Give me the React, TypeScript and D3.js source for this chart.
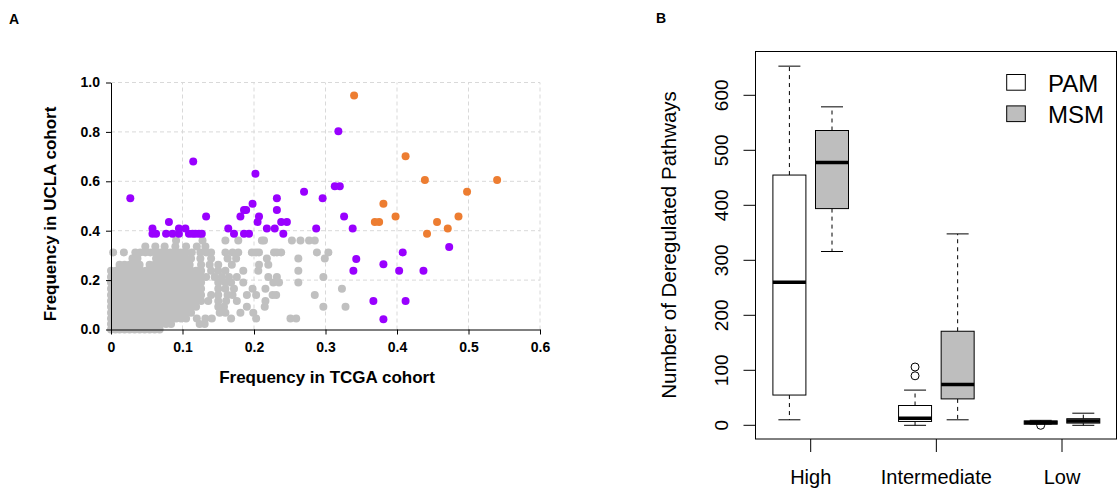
import React, { useRef, useEffect } from 'react';
import * as d3 from 'd3';

// Panel A: frequency pairs [TCGA, UCLA]
const purplePoints: [number, number][] = [
  [0.027, 0.531], [0.115, 0.68], [0.202, 0.631], [0.318, 0.803],
  [0.058, 0.409], [0.058, 0.388], [0.063, 0.388], [0.081, 0.435],
  [0.077, 0.388], [0.086, 0.388], [0.095, 0.409], [0.095, 0.388],
  [0.104, 0.409], [0.109, 0.388], [0.114, 0.388], [0.118, 0.388],
  [0.123, 0.388], [0.127, 0.388], [0.133, 0.457], [0.164, 0.409],
  [0.172, 0.388], [0.181, 0.457], [0.186, 0.484], [0.189, 0.484],
  [0.186, 0.388], [0.193, 0.388], [0.198, 0.509], [0.207, 0.457],
  [0.205, 0.435], [0.218, 0.409], [0.229, 0.409], [0.232, 0.531],
  [0.232, 0.484], [0.238, 0.435], [0.246, 0.435], [0.241, 0.388],
  [0.270, 0.558], [0.296, 0.531], [0.287, 0.409], [0.313, 0.58],
  [0.320, 0.58], [0.326, 0.457], [0.338, 0.409], [0.343, 0.285],
  [0.339, 0.238], [0.381, 0.264], [0.403, 0.238], [0.408, 0.312],
  [0.437, 0.238], [0.473, 0.334], [0.367, 0.115], [0.412, 0.115],
  [0.381, 0.041],
];

const orangePoints: [number, number][] = [
  [0.340, 0.947], [0.412, 0.701], [0.439, 0.605], [0.540, 0.605],
  [0.498, 0.558], [0.381, 0.509], [0.369, 0.435], [0.375, 0.435],
  [0.398, 0.457], [0.456, 0.435], [0.442, 0.388], [0.471, 0.409],
  [0.486, 0.457],
];

// grey points, one row per UCLA frequency level: [ucla, tcga values]
const grayRows: [number, number[]][] = [
  [0.000, [0, .006, .012, .019, .026, .033, .040, .047, .054, .061, .068]],
  [0.022, [0, .007, .014, .021, .028, .035, .042, .049, .056, .063, .070, .077, .084, .124, .131]],
  [0.045, [0, .007, .014, .021, .028, .035, .042, .049, .056, .063, .070, .077, .084, .091, .098, .105, .120, .132, .141, .168, .203, .251, .259]],
  [0.068, [0, .007, .014, .021, .028, .035, .042, .049, .056, .063, .070, .077, .084, .091, .098, .105, .112, .152, .160, .181, .199]],
  [0.092, [0, .007, .014, .021, .028, .035, .042, .049, .056, .063, .070, .077, .084, .091, .098, .105, .112, .119, .150, .158, .190, .215, .297, .328]],
  [0.115, [0, .007, .014, .021, .028, .035, .042, .049, .056, .063, .070, .077, .084, .091, .098, .105, .112, .119, .126, .136, .150, .161, .176, .216]],
  [0.140, [0, .007, .014, .021, .028, .035, .042, .049, .056, .063, .070, .077, .084, .091, .098, .105, .112, .119, .126, .140, .150, .163, .170, .190, .203, .226, .231, .285]],
  [0.165, [0, .007, .014, .021, .028, .035, .042, .049, .056, .063, .070, .077, .084, .091, .098, .105, .112, .119, .126, .150, .160, .172, .198, .216, .323]],
  [0.190, [0, .007, .014, .021, .028, .035, .042, .049, .056, .063, .070, .077, .084, .091, .098, .105, .112, .119, .126, .150, .160, .168, .185, .227, .235, .262]],
  [0.213, [0, .007, .014, .021, .028, .035, .042, .049, .056, .063, .070, .077, .084, .091, .098, .105, .112, .119, .126, .133, .145, .155, .165, .176, .220, .232, .297]],
  [0.238, [0, .007, .014, .021, .028, .035, .042, .049, .056, .063, .070, .077, .084, .091, .098, .105, .112, .119, .126, .140, .150, .160, .185, .206, .262]],
  [0.262, [.012, .019, .026, .033, .040, .054, .061, .068, .075, .082, .089, .096, .103, .110, .126, .138, .150, .169, .207, .220]],
  [0.287, [.030, .037, .063, .070, .077, .084, .091, .098, .105, .112, .125, .140, .163, .175, .218, .262, .299]],
  [0.312, [.003, .018, .034, .041, .048, .055, .062, .069, .076, .083, .090, .097, .104, .113, .125, .133, .140, .160, .170, .178, .197, .203, .207, .228, .232, .238, .288, .304]],
  [0.336, [.048, .062, .075, .090, .105, .120, .132]],
  [0.360, [.091, .128, .160, .178, .211, .214, .253, .265, .277, .285]],
];

const xTicksA = [0, 0.1, 0.2, 0.3, 0.4, 0.5, 0.6];
const yTicksA = [0, 0.2, 0.4, 0.6, 0.8, 1.0];

// Panel B: box statistics per risk group
const groups = ['High', 'Intermediate', 'Low'];
const pamStats = [
  { min: 10, q1: 55, med: 260, q3: 455, max: 653, out: [] as number[] },
  { min: 0, q1: 7, med: 13, q3: 36, max: 64, out: [90, 106] },
  { min: 2, q1: 2, med: 5, q3: 8, max: 9, out: [0] },
];
const msmStats = [
  { min: 316, q1: 394, med: 478, q3: 536, max: 579, out: [] as number[] },
  { min: 10, q1: 48, med: 74, q3: 171, max: 348, out: [] as number[] },
  { min: 0, q1: 4, med: 8, q3: 12, max: 22, out: [] as number[] },
];
const legendLabels = ['PAM', 'MSM'];
const yTicksB = [0, 100, 200, 300, 400, 500, 600];

const FONT = '"Liberation Sans", Arial, sans-serif';

const App = () => {
  const svgRef = useRef<SVGSVGElement>(null);

  useEffect(() => {
    const svg = d3.select(svgRef.current);
    svg.selectAll('*').remove();

    // ---------- Panel A ----------
    const x = d3.scaleLinear().domain([0, 0.6]).range([111, 540]);
    const y = d3.scaleLinear().domain([0, 1]).range([329.5, 82.5]);
    const a = svg.append('g');

    a.append('text').attr('x', 9).attr('y', 24).text('A')
      .attr('font-family', FONT).attr('font-weight', 'bold').attr('font-size', 14);

    // dashed grid
    a.append('g').selectAll('line')
      .data(xTicksA.slice(1)).join('line')
      .attr('x1', d => x(d)).attr('x2', d => x(d))
      .attr('y1', y(0)).attr('y2', y(1))
      .attr('stroke', '#d9d9d9').attr('stroke-dasharray', '4,3');
    a.append('g').selectAll('line')
      .data(yTicksA.slice(1)).join('line')
      .attr('y1', d => y(d)).attr('y2', d => y(d))
      .attr('x1', x(0)).attr('x2', x(0.6))
      .attr('stroke', '#d9d9d9').attr('stroke-dasharray', '4,3');

    const grayPoints: [number, number][] = grayRows.flatMap(([v, xs]) => xs.map(t => [t, v] as [number, number]));

    const drawDots = (pts: [number, number][], color: string) => {
      a.append('g').selectAll('circle')
        .data(pts).join('circle')
        .attr('cx', d => x(d[0])).attr('cy', d => y(d[1]))
        .attr('r', 4).attr('fill', color);
    };
    drawDots(grayPoints, '#c0c0c0');
    drawDots(purplePoints, '#9900ff');
    drawDots(orangePoints, '#ed7d31');

    // axes
    a.append('g')
      .attr('transform', `translate(${x(0)},0)`)
      .call(d3.axisLeft(y).tickValues(yTicksA).tickSize(5).tickSizeOuter(0).tickPadding(6)
        .tickFormat(d => d3.format('.1f')(d as number)))
      .call(g => g.selectAll('text').attr('font-family', FONT).attr('font-weight', 'bold').attr('font-size', 14).attr('fill', '#000'))
      .call(g => g.selectAll('line, path').attr('stroke', '#000'));
    a.append('g')
      .attr('transform', `translate(0,${y(0)})`)
      .call(d3.axisBottom(x).tickValues(xTicksA).tickSize(5).tickSizeOuter(0).tickPadding(8)
        .tickFormat(d => (d === 0 ? '0' : d3.format('.1f')(d as number))))
      .call(g => g.selectAll('text').attr('font-family', FONT).attr('font-weight', 'bold').attr('font-size', 14).attr('fill', '#000'))
      .call(g => g.selectAll('line, path').attr('stroke', '#000'));

    a.append('text')
      .attr('x', 327).attr('y', 383).attr('text-anchor', 'middle')
      .attr('font-family', FONT).attr('font-weight', 'bold').attr('font-size', 17)
      .text('Frequency in TCGA cohort');
    a.append('text')
      .attr('transform', 'translate(56,214) rotate(-90)').attr('text-anchor', 'middle')
      .attr('font-family', FONT).attr('font-weight', 'bold').attr('font-size', 17)
      .text('Frequency in UCLA cohort');

    // ---------- Panel B ----------
    const b = svg.append('g');
    const yb = d3.scaleLinear().domain([0, 600]).range([425.3, 95.3]);
    const xb = d3.scalePoint<string>().domain(groups).range([810.7, 1062]);
    const frame = { left: 755.5, right: 1116.5, top: 51.5, bottom: 439 };

    b.append('text').attr('x', 656).attr('y', 23).text('B')
      .attr('font-family', FONT).attr('font-weight', 'bold').attr('font-size', 14);

    const boxW = 33;
    const off = 21.3;
    const drawBoxes = (stats: typeof pamStats, dx: number, fill: string) => {
      stats.forEach((s, i) => {
        const cx = (xb(groups[i]) as number) + dx;
        const g = b.append('g').attr('stroke', '#000').attr('fill', 'none');
        g.append('line').attr('x1', cx).attr('x2', cx).attr('y1', yb(s.q3)).attr('y2', yb(s.max)).attr('stroke-dasharray', '4,4');
        g.append('line').attr('x1', cx).attr('x2', cx).attr('y1', yb(s.q1)).attr('y2', yb(s.min)).attr('stroke-dasharray', '4,4');
        g.append('line').attr('x1', cx - 11).attr('x2', cx + 11).attr('y1', yb(s.max)).attr('y2', yb(s.max));
        g.append('line').attr('x1', cx - 11).attr('x2', cx + 11).attr('y1', yb(s.min)).attr('y2', yb(s.min));
        g.append('rect').attr('x', cx - boxW / 2).attr('width', boxW)
          .attr('y', yb(s.q3)).attr('height', Math.max(yb(s.q1) - yb(s.q3), 1))
          .attr('fill', fill);
        g.append('line').attr('x1', cx - boxW / 2).attr('x2', cx + boxW / 2)
          .attr('y1', yb(s.med)).attr('y2', yb(s.med)).attr('stroke-width', 3.5);
        g.selectAll('circle').data(s.out).join('circle')
          .attr('cx', cx).attr('cy', d => yb(d)).attr('r', 4).attr('fill', 'none');
      });
    };
    drawBoxes(pamStats, -off, '#ffffff');
    drawBoxes(msmStats, off, '#bebebe');

    b.append('rect')
      .attr('x', frame.left).attr('y', frame.top)
      .attr('width', frame.right - frame.left).attr('height', frame.bottom - frame.top)
      .attr('fill', 'none').attr('stroke', '#000');

    // y axis
    const ya = b.append('g');
    ya.selectAll('line').data(yTicksB).join('line')
      .attr('x1', frame.left - 12).attr('x2', frame.left)
      .attr('y1', d => yb(d)).attr('y2', d => yb(d)).attr('stroke', '#000');
    ya.selectAll('text').data(yTicksB).join('text')
      .attr('transform', d => `translate(728,${yb(d)}) rotate(-90)`)
      .attr('text-anchor', 'middle')
      .attr('font-family', FONT).attr('font-size', 19)
      .text(d => d);
    b.append('text')
      .attr('transform', 'translate(676,245) rotate(-90)').attr('text-anchor', 'middle')
      .attr('font-family', FONT).attr('font-size', 20.5)
      .text('Number of Deregulated Pathways');

    // x axis
    const xa = b.append('g');
    xa.selectAll('line').data(groups).join('line')
      .attr('x1', d => xb(d) as number).attr('x2', d => xb(d) as number)
      .attr('y1', frame.bottom).attr('y2', frame.bottom + 13).attr('stroke', '#000');
    xa.selectAll('text').data(groups).join('text')
      .attr('x', d => xb(d) as number).attr('y', 484)
      .attr('text-anchor', 'middle')
      .attr('font-family', FONT).attr('font-size', 20)
      .text(d => d);

    // legend
    const leg = b.append('g');
    const legFills = ['#ffffff', '#bebebe'];
    legendLabels.forEach((lab, i) => {
      const ly = 74.5 + i * 31.4;
      leg.append('rect').attr('x', 1006.7).attr('y', ly).attr('width', 18.6).attr('height', 15.7)
        .attr('fill', legFills[i]).attr('stroke', '#000');
      leg.append('text').attr('x', 1048).attr('y', ly + 17.3)
        .attr('font-family', FONT).attr('font-size', 24).text(lab);
    });
  }, []);

  return (
    <svg ref={svgRef} width={1118} height={498}
      style={{ position: 'absolute', left: 0, top: 0, background: '#fff' }} />
  );
};

export default App;
